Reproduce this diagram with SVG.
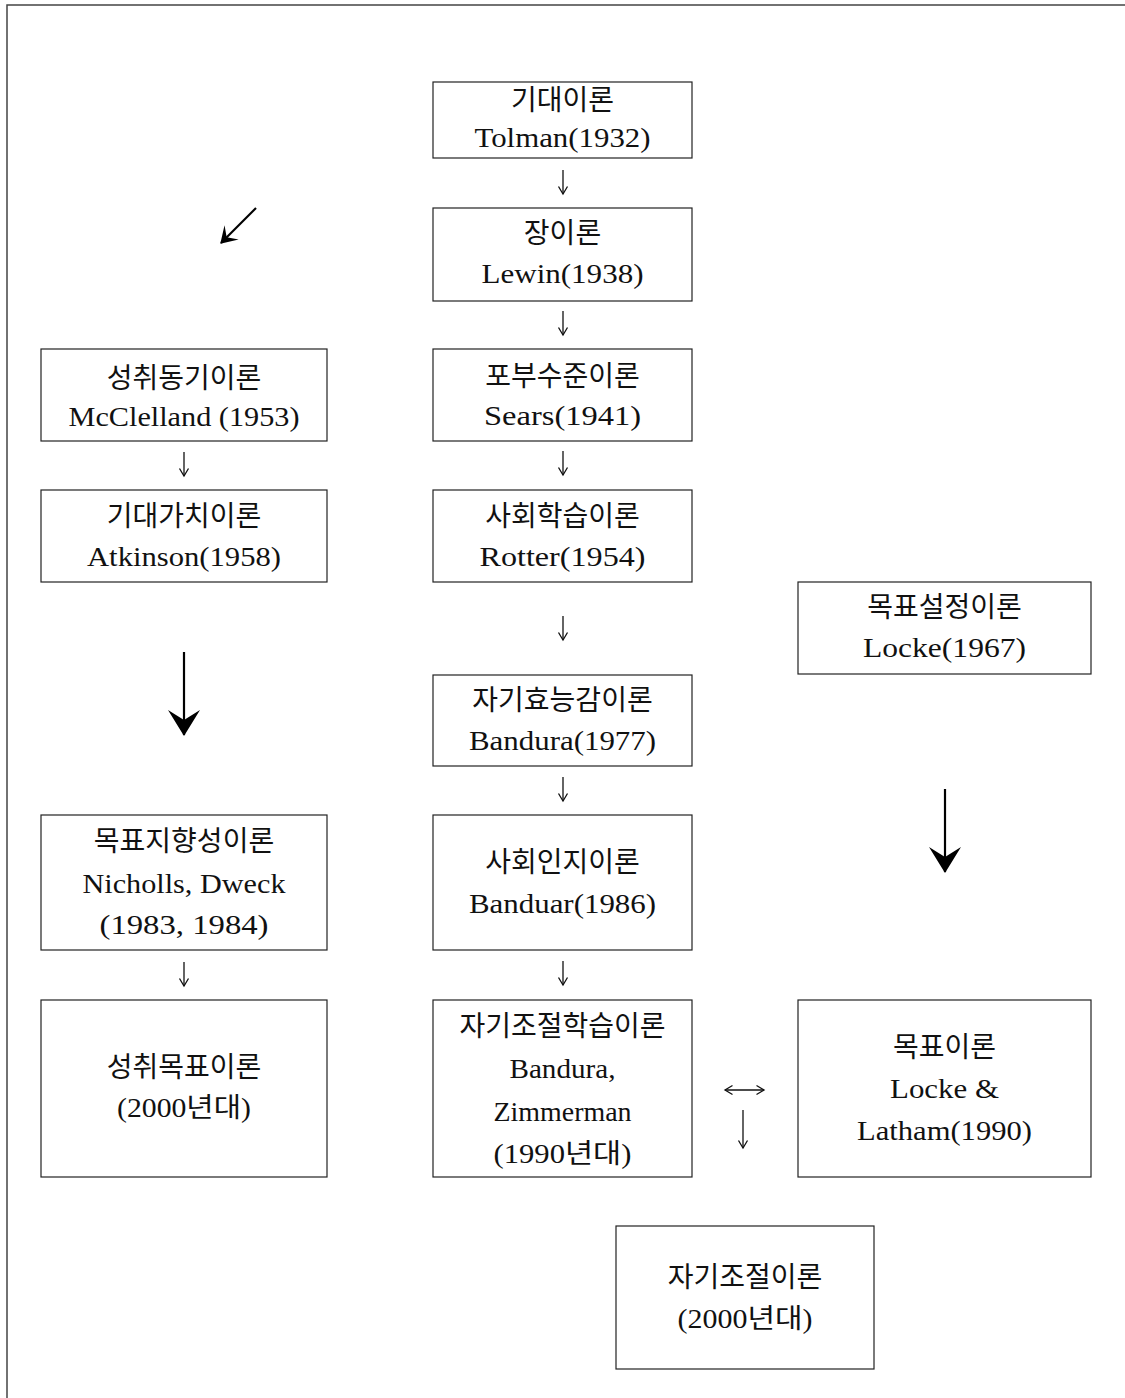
<svg xmlns="http://www.w3.org/2000/svg" width="1125" height="1398" viewBox="0 0 1125 1398">
<style>
.box{fill:#fff;stroke:#222;stroke-width:1.2}
.k{font-family:"Liberation Serif","Noto Sans CJK KR",serif;font-size:28px;fill:#111;text-anchor:middle}
.l{font-family:"Liberation Serif","Noto Sans CJK KR",serif;font-size:27px;fill:#111;text-anchor:middle}
.c{fill:none;stroke:#111;stroke-width:1.3}
.cb{fill:none;stroke:#000;stroke-width:2.2}
</style>
<defs>
<marker id="sm" markerUnits="userSpaceOnUse" viewBox="0 0 12 12" markerWidth="12" markerHeight="12" refX="10" refY="6" orient="auto-start-reverse">
<path d="M2.5,1.5 L10,6 L2.5,10.5" fill="none" stroke="#111" stroke-width="1.3"/>
</marker>
<marker id="big" markerUnits="userSpaceOnUse" viewBox="0 0 26 32" markerWidth="26" markerHeight="32" refX="25" refY="16" orient="auto">
<path d="M0,0 L26,16 L0,32 L10,16 Z" fill="#000"/>
</marker>
<marker id="mid" markerUnits="userSpaceOnUse" viewBox="0 0 16 20" markerWidth="16" markerHeight="20" refX="15" refY="10" orient="auto">
<path d="M0,0 L16,10 L0,20 L7,10 Z" fill="#000"/>
</marker>
</defs>
<rect width="1125" height="1398" fill="#fff"/>
<path d="M7,1398 V5 H1125" fill="none" stroke="#444" stroke-width="1.5"/>

<g id="connectors">
<path class="c" d="M563,170 V194" marker-end="url(#sm)"/>
<path class="c" d="M563,311 V335" marker-end="url(#sm)"/>
<path class="c" d="M563,451 V475" marker-end="url(#sm)"/>
<path class="c" d="M563,616 V640" marker-end="url(#sm)"/>
<path class="c" d="M563,777 V801" marker-end="url(#sm)"/>
<path class="c" d="M563,961 V985" marker-end="url(#sm)"/>
<path class="c" d="M184,452 V476" marker-end="url(#sm)"/>
<path class="c" d="M184,962 V986" marker-end="url(#sm)"/>
<path class="c" d="M725,1090 H764" marker-start="url(#sm)" marker-end="url(#sm)"/>
<path class="c" d="M743,1110 V1148" marker-end="url(#sm)"/>
<path class="cb" d="M256,208 L221,243" marker-end="url(#mid)"/>
<path class="cb" d="M184,652 V735" marker-end="url(#big)"/>
<path class="cb" d="M945,789 V872" marker-end="url(#big)"/>
</g>

<g id="n1"><rect class="box" x="433" y="82" width="259" height="76"/>
<text class="k" x="562.5" y="110">기대이론</text>
<text class="l" x="562.5" y="147" textLength="176" lengthAdjust="spacingAndGlyphs">Tolman(1932)</text></g>

<g id="n2"><rect class="box" x="433" y="208" width="259" height="93"/>
<text class="k" x="562.5" y="243">장이론</text>
<text class="l" x="562.5" y="283" textLength="162" lengthAdjust="spacingAndGlyphs">Lewin(1938)</text></g>

<g id="n3"><rect class="box" x="41" y="349" width="286" height="92"/>
<text class="k" x="184" y="388">성취동기이론</text>
<text class="l" x="184" y="426" textLength="231" lengthAdjust="spacingAndGlyphs">McClelland (1953)</text></g>

<g id="n4"><rect class="box" x="433" y="349" width="259" height="92"/>
<text class="k" x="562.5" y="386">포부수준이론</text>
<text class="l" x="562.5" y="425" textLength="157" lengthAdjust="spacingAndGlyphs">Sears(1941)</text></g>

<g id="n5"><rect class="box" x="41" y="490" width="286" height="92"/>
<text class="k" x="184" y="526">기대가치이론</text>
<text class="l" x="184" y="566" textLength="194" lengthAdjust="spacingAndGlyphs">Atkinson(1958)</text></g>

<g id="n6"><rect class="box" x="433" y="490" width="259" height="92"/>
<text class="k" x="562.5" y="526">사회학습이론</text>
<text class="l" x="562.5" y="566" textLength="166" lengthAdjust="spacingAndGlyphs">Rotter(1954)</text></g>

<g id="n7"><rect class="box" x="798" y="582" width="293" height="92"/>
<text class="k" x="944.5" y="617">목표설정이론</text>
<text class="l" x="944.5" y="657" textLength="163" lengthAdjust="spacingAndGlyphs">Locke(1967)</text></g>

<g id="n8"><rect class="box" x="433" y="675" width="259" height="91"/>
<text class="k" x="562.5" y="710">자기효능감이론</text>
<text class="l" x="562.5" y="750" textLength="187" lengthAdjust="spacingAndGlyphs">Bandura(1977)</text></g>

<g id="n9"><rect class="box" x="41" y="815" width="286" height="135"/>
<text class="k" x="184" y="851">목표지향성이론</text>
<text class="l" x="184" y="893" textLength="203" lengthAdjust="spacingAndGlyphs">Nicholls, Dweck</text>
<text class="l" x="184" y="934" textLength="169" lengthAdjust="spacingAndGlyphs">(1983, 1984)</text></g>

<g id="n10"><rect class="box" x="433" y="815" width="259" height="135"/>
<text class="k" x="562.5" y="872">사회인지이론</text>
<text class="l" x="562.5" y="913" textLength="187" lengthAdjust="spacingAndGlyphs">Banduar(1986)</text></g>

<g id="n11"><rect class="box" x="41" y="1000" width="286" height="177"/>
<text class="k" x="184" y="1077">성취목표이론</text>
<text class="l" x="184" y="1117" textLength="134" lengthAdjust="spacingAndGlyphs">(2000년대)</text></g>

<g id="n12"><rect class="box" x="433" y="1000" width="259" height="177"/>
<text class="k" x="562.5" y="1036">자기조절학습이론</text>
<text class="l" x="562.5" y="1078" textLength="106" lengthAdjust="spacingAndGlyphs">Bandura,</text>
<text class="l" x="562.5" y="1121" textLength="138" lengthAdjust="spacingAndGlyphs">Zimmerman</text>
<text class="l" x="562.5" y="1163" textLength="138" lengthAdjust="spacingAndGlyphs">(1990년대)</text></g>

<g id="n13"><rect class="box" x="798" y="1000" width="293" height="177"/>
<text class="k" x="944.5" y="1057">목표이론</text>
<text class="l" x="944.5" y="1098" textLength="109" lengthAdjust="spacingAndGlyphs">Locke &amp;</text>
<text class="l" x="944.5" y="1140" textLength="175" lengthAdjust="spacingAndGlyphs">Latham(1990)</text></g>

<g id="n14"><rect class="box" x="616" y="1226" width="258" height="143"/>
<text class="k" x="745" y="1287">자기조절이론</text>
<text class="l" x="745" y="1328" textLength="135" lengthAdjust="spacingAndGlyphs">(2000년대)</text></g>
</svg>
